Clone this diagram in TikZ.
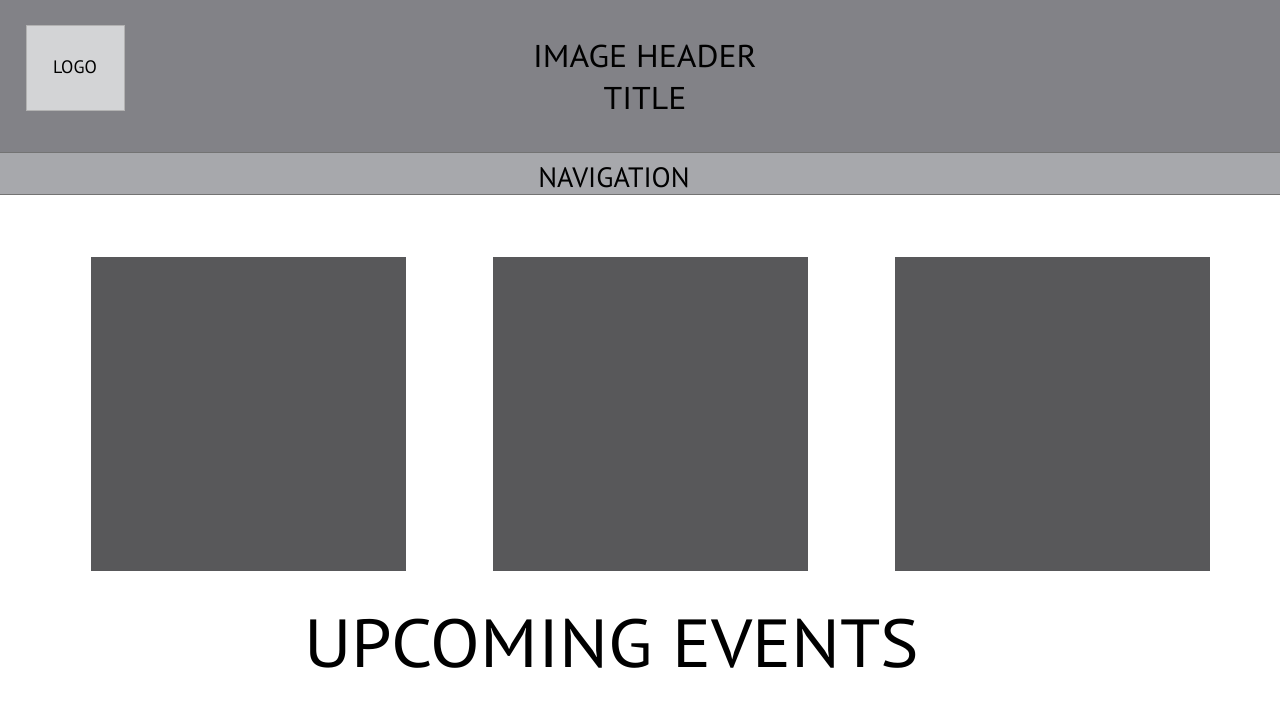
\documentclass[tikz,border=0pt]{standalone}
\usepackage{fontspec}
\setmainfont{PT Sans}
\newfontfamily\widefont[FakeStretch=1.07]{PT Sans}
\usepackage{xcolor}
\usetikzlibrary{positioning}

\definecolor{headergray}{RGB}{130,130,135}
\definecolor{navgray}{RGB}{167,168,172}
\definecolor{logogray}{RGB}{211,212,214}
\definecolor{tilegray}{RGB}{88,88,90}

\begin{document}
\begin{tikzpicture}[x=1pt, y=-1pt, node distance=87pt]
    \tikzset{
        bar/.style={rectangle, inner sep=0pt, outer sep=0pt, minimum width=1280pt, anchor=north west},
        tile/.style={rectangle, fill=tilegray, inner sep=0pt, outer sep=0pt, minimum width=315pt, minimum height=314pt},
        label/.style={inner sep=0pt, text=black, align=center}
    }
    \useasboundingbox (0,0) rectangle (1280,720);
    \fill[white] (0,0) rectangle (1280,720);

    % header and navigation bars
    \node[bar, fill=headergray, minimum height=152pt] (header) at (0,0) {};
    \node[bar, fill=navgray, minimum height=41pt] (nav) at (0,153) {};
    \draw[gray!90!black, line width=1pt] (header.south west) -- (header.south east);
    \draw[gray!90!black, line width=1pt] (nav.south west) -- (nav.south east);

    \node[rectangle, draw=gray!60, fill=logogray, minimum width=98pt, minimum height=85pt,
          inner sep=0pt, font=\fontsize{18}{20}\selectfont] (logo) at (75,67.5) {LOGO};
    \node[label, font=\widefont\fontsize{31.5}{42}\selectfont] (title) at (645,77) {IMAGE HEADER\\TITLE};
    \node[label, font=\fontsize{28}{30}\selectfont] (navtext) at (614,178) {NAVIGATION};

    % event tiles
    \node[tile] (tile1) at (248.5,414) {};
    \node[tile, right=of tile1] (tile2) {};
    \node[tile, right=of tile2] (tile3) {};

    \node[label, font=\widefont\fontsize{68}{72}\selectfont] (events) at (612,644) {UPCOMING EVENTS};
\end{tikzpicture}
\end{document}
